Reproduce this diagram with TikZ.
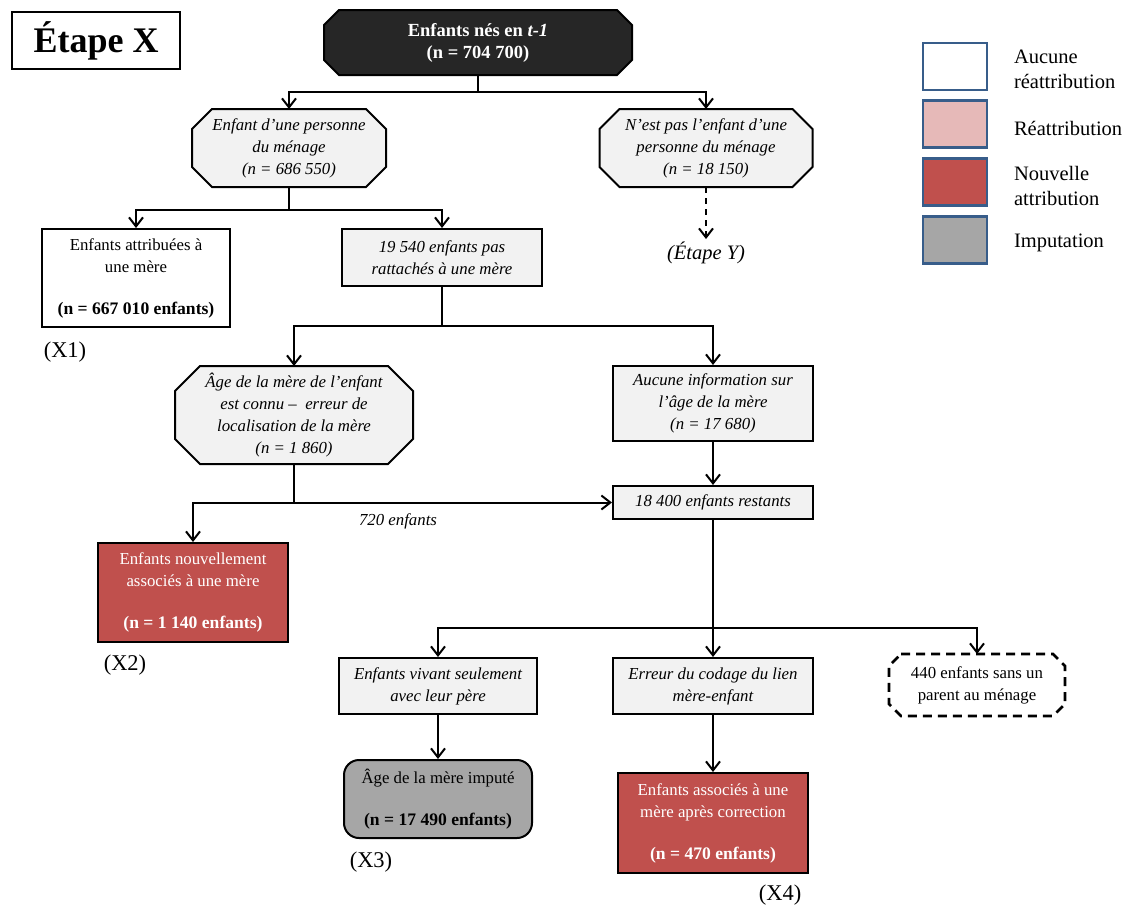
\documentclass[tikz,border=0pt]{standalone}
\usepackage{fontspec}
\setmainfont{Liberation Serif}
\usetikzlibrary{arrows.meta,calc,backgrounds}
\definecolor{darkfill}{HTML}{262626}
\definecolor{lgray}{HTML}{F2F2F2}
\definecolor{rred}{HTML}{C0504D}
\definecolor{rpink}{HTML}{E6B9B8}
\definecolor{mgray}{HTML}{A6A6A6}
\definecolor{lblue}{HTML}{385D8A}
\newcommand\fs{\fontsize{16.8}{22}\selectfont}
\newcommand\bl[1]{{\fontsize{17.6}{22}\selectfont\bfseries #1}}
\newcommand\chamf[3][]{%
  \draw[#1] ($(#2.north west)+(#3,0)$) -- ($(#2.north east)+(-#3,0)$) -- ($(#2.north east)+(0,#3)$)
   -- ($(#2.south east)+(0,-#3)$) -- ($(#2.south east)+(-#3,0)$) -- ($(#2.south west)+(#3,0)$)
   -- ($(#2.south west)+(0,-#3)$) -- ($(#2.north west)+(0,#3)$) -- cycle;}
\begin{document}
\begin{tikzpicture}[x=1pt,y=-1pt,line width=2pt,
  every node/.style={inner sep=0pt,align=center,font=\fs},
  sz/.style 2 args={minimum width=#1pt,minimum height=#2pt},
  arr/.style={-{Straight Barb[length=9pt,width=14pt]}},
  gbox/.style={draw,line width=2pt,fill=lgray,font=\fs\itshape},
  wbox/.style={draw,line width=2pt,fill=white},
  rbox/.style={draw,line width=2pt,fill=rred,text=white},
  ibox/.style={font=\fs\itshape},
  tag/.style={font=\fontsize{22.5}{26}\selectfont},
  leg/.style={draw=lblue,line width=2.2pt,minimum width=64pt,minimum height=47pt},
  legtxt/.style={anchor=west,align=left,font=\fontsize{20.5}{25}\selectfont}]
\begin{scope}[on background layer]
  \fill[white] (0,0) rectangle (1128,908);
\end{scope}
\useasboundingbox (0,0) rectangle (1128,908);

% title
\node[draw,line width=1.2pt,sz={168}{57},font=\fontsize{36}{40}\selectfont\bfseries] (title) at (96,40.5) {Étape X};

% nodes
\node[sz={306}{63},text=white,font=\fontsize{18.5}{22}\selectfont\bfseries] (top) at (478,42.5) {Enfants nés en \textit{t-1}\\(n = 704 700)};
\node[sz={192}{76},ibox] (n1) at (289,148) {Enfant d’une personne\\du ménage\\(n = 686 550)};
\node[sz={211}{76},ibox] (n2) at (706,148) {N’est pas l’enfant d’une\\personne du ménage\\(n = 18 150)};
\node[font=\fontsize{20.5}{24}\selectfont\itshape,inner sep=2pt] (ety) at (706,253) {(Étape Y)};
\node[wbox,sz={188}{98}] (n3) at (136,278) {Enfants attribuées à\\une mère\\[20pt]\bl{(n = 667 010 enfants)}};
\node[gbox,sz={200}{57}] (n4) at (442,257.5) {19 540 enfants pas\\rattachés à une mère};
\node[tag] (x1) at (65,352) {(X1)};
\node[sz={236}{96},ibox] (n5) at (294,415) {Âge de la mère de l’enfant\\est connu –~~erreur de\\localisation de la mère\\(n = 1 860)};
\node[gbox,sz={200}{75}] (n6) at (713,403.5) {Aucune information sur\\l’âge de la mère\\(n = 17 680)};
\node[gbox,sz={200}{33}] (n7) at (713,502.5) {18 400 enfants restants};
\node[ibox] (l720) at (398,521) {720 enfants};
\node[rbox,sz={190}{99}] (n8) at (193,592.5) {Enfants nouvellement\\associés à une mère\\[20pt]\bl{(n = 1 140 enfants)}};
\node[tag] (x2) at (125,665) {(X2)};
\node[gbox,sz={198}{56}] (n9) at (438,686) {Enfants vivant seulement\\avec leur père};
\node[gbox,sz={200}{56}] (n10) at (713,686) {Erreur du codage du lien\\mère-enfant};
\node[sz={174}{60}] (n11) at (977,685) {440 enfants sans un\\parent au ménage};
\node[draw,line width=2pt,fill=mgray,rounded corners=15pt,sz={188}{78}] (n12) at (438,799) {Âge de la mère imputé\\[20pt]\bl{(n = 17 490 enfants)}};
\node[tag] (x3) at (371,862) {(X3)};
\node[rbox,sz={190}{100}] (n13) at (713,823) {Enfants associés à une\\mère après correction\\[20pt]\bl{(n = 470 enfants)}};
\node[tag] (x4) at (780,895) {(X4)};

% chamfered shapes
\begin{scope}[on background layer]
  \chamf[fill=darkfill,draw=black,line width=2pt]{top}{15}
  \chamf[fill=lgray,draw=black,line width=2pt]{n1}{20}
  \chamf[fill=lgray,draw=black,line width=2pt]{n2}{20}
  \chamf[fill=lgray,draw=black,line width=2pt]{n5}{25}
  \chamf[fill=white,draw=black,line width=2.6pt,dash pattern=on 9pt off 6pt]{n11}{12}
\end{scope}

% connectors
\draw[arr] (top.south) -- ++(0,17) -| (n1.north);
\draw[arr] (top.south) -- ++(0,17) -| (n2.north);
\draw[arr,dash pattern=on 6pt off 5pt] (n2.south) -- (ety.north);
\draw[arr] (n1.south) -- ++(0,23) -| (n3.north);
\draw[arr] (n1.south) -- ++(0,23) -| (n4.north);
\draw[arr] (n4.south) -- ++(0,39) -| (n5.north);
\draw[arr] (n4.south) -- ++(0,39) -| (n6.north);
\draw[arr] (n6.south) -- (n7.north);
\draw[arr] (n5.south) |- (n7.west);
\draw[arr] (n5.south) -- (n5.south |- n7.west) -| (n8.north);
\draw[arr] (n7.south) -- ++(0,108) -| (n9.north);
\draw[arr] (n7.south) -- ++(0,108) -| (n10.north);
\draw[arr] (n7.south) -- ++(0,108) -| (n11.north);
\draw[arr] (n9.south) -- (n12.north);
\draw[arr] (n10.south) -- (n13.north);

% legend
\node[leg,fill=white] (lg1) at (955,66.5) {};
\node[leg,fill=rpink] (lg2) at (955,124) {};
\node[leg,fill=rred] (lg3) at (955,182) {};
\node[leg,fill=mgray] (lg4) at (955,240) {};
\node[legtxt] (lt1) at (1013,69) {Aucune\\réattribution};
\node[legtxt] (lt2) at (1013,128) {Réattribution};
\node[legtxt] (lt3) at (1013,186) {Nouvelle\\attribution};
\node[legtxt] (lt4) at (1013,243) {Imputation};
\end{tikzpicture}
\end{document}
